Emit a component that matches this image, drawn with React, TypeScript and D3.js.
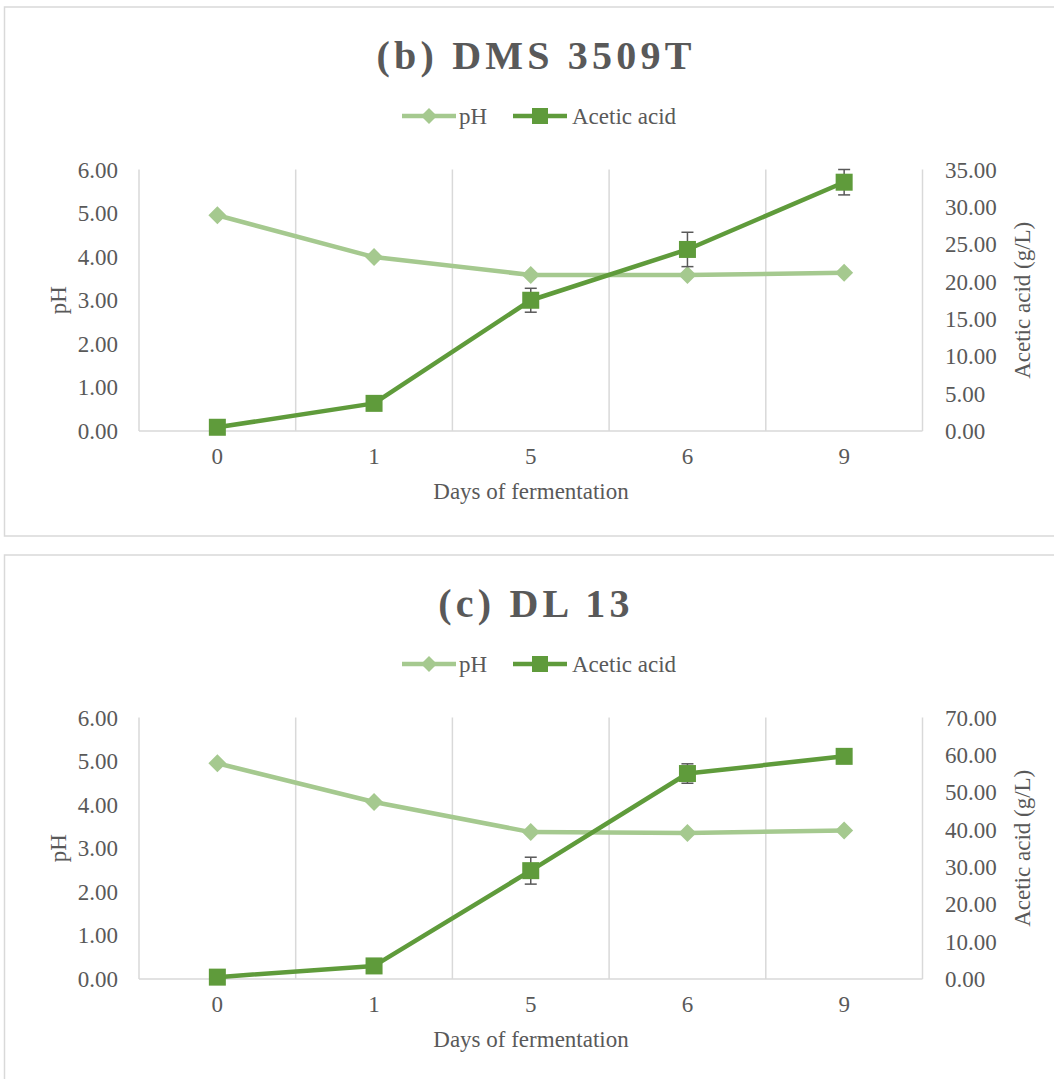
import React from 'react';
import * as d3 from 'd3';

// categories (days of fermentation)
const days = ['0', '1', '5', '6', '9'];

// (b) DMS 3509T
const phB = [4.95, 3.99, 3.58, 3.58, 3.63];
const acidB = [0.5, 3.7, 17.5, 24.3, 33.3];
const acidErrB = [0, 0, 1.6, 2.3, 1.7];

// (c) DL 13
const phC = [4.95, 4.06, 3.37, 3.35, 3.41];
const acidC = [0.5, 3.5, 29.0, 55.0, 59.6];
const acidErrC = [0, 0, 3.6, 2.6, 1.0];

const phTicks = [0, 1, 2, 3, 4, 5, 6];
const acidTicksB = [0, 5, 10, 15, 20, 25, 30, 35];
const acidTicksC = [0, 10, 20, 30, 40, 50, 60, 70];

const FONT = '"Liberation Serif", "Times New Roman", serif';
const TEXT = '#595959';
const GRID = '#d9d9d9';
const PH_COLOR = '#a5c98f';
const ACID_COLOR = '#5f9b3b';

type PanelProps = {
  top: number;
  title: string;
  ph: number[];
  acid: number[];
  acidErr: number[];
  acidTicks: number[];
};

function Panel({ top, title, ph, acid, acidErr, acidTicks }: PanelProps) {
  const left = 139;
  const right = 922.5;
  const plotTop = top + 162.5;
  const plotBottom = top + 424;

  const x = d3.scaleBand<string>().domain(days).range([left, right]);
  const yPh = d3.scaleLinear().domain([0, 6]).range([plotBottom, plotTop]);
  const yAcid = d3
    .scaleLinear()
    .domain([0, acidTicks[acidTicks.length - 1]])
    .range([plotBottom, plotTop]);

  const cx = (d: string) => (x(d) as number) + x.bandwidth() / 2;

  const phLine = d3
    .line<number>()
    .x((_, i) => cx(days[i]))
    .y((v) => yPh(v));
  const acidLine = d3
    .line<number>()
    .x((_, i) => cx(days[i]))
    .y((v) => yAcid(v));

  const bounds = days.map((d) => x(d) as number).concat([right]);
  const legendY = top + 109;

  return (
    <g>
      {/* panel frame */}
      <rect x={4.5} y={top} width={1070} height={top < 100 ? 529 : 600} fill="#fff" stroke={GRID} strokeWidth={1.5} />

      <text
        x={536}
        y={top + 62}
        textAnchor="middle"
        fontFamily={FONT}
        fontWeight="bold"
        fontSize={40}
        letterSpacing={4.2}
        fill={TEXT}
      >
        {title}
      </text>

      {/* legend */}
      <g>
        <line x1={402} x2={456} y1={legendY} y2={legendY} stroke={PH_COLOR} strokeWidth={4.5} />
        <path d={`M429,${legendY - 8}L437,${legendY}L429,${legendY + 8}L421,${legendY}Z`} fill={PH_COLOR} />
        <text x={459} y={legendY} dy="0.35em" fontFamily={FONT} fontSize={23} fill={TEXT}>
          pH
        </text>
        <line x1={513} x2={567} y1={legendY} y2={legendY} stroke={ACID_COLOR} strokeWidth={4.5} />
        <rect x={532} y={legendY - 8} width={16} height={16} fill={ACID_COLOR} />
        <text x={572} y={legendY} dy="0.35em" fontFamily={FONT} fontSize={23} fill={TEXT}>
          Acetic acid
        </text>
      </g>

      {/* gridlines */}
      {bounds.map((b, i) => (
        <line key={i} x1={b} x2={b} y1={plotTop} y2={plotBottom} stroke={GRID} strokeWidth={1.5} />
      ))}
      <line x1={left} x2={right} y1={plotBottom} y2={plotBottom} stroke={GRID} strokeWidth={1.5} />

      {/* left axis */}
      {phTicks.map((t) => (
        <text
          key={t}
          x={118}
          y={yPh(t)}
          dy="0.35em"
          textAnchor="end"
          fontFamily={FONT}
          fontSize={23}
          fill={TEXT}
        >
          {t.toFixed(2)}
        </text>
      ))}
      <text
        transform={`translate(58,${(plotTop + plotBottom) / 2}) rotate(-90)`}
        textAnchor="middle"
        dy="0.35em"
        fontFamily={FONT}
        fontSize={23}
        fill={TEXT}
      >
        pH
      </text>

      {/* right axis */}
      {acidTicks.map((t) => (
        <text key={t} x={945} y={yAcid(t)} dy="0.35em" fontFamily={FONT} fontSize={23} fill={TEXT}>
          {t.toFixed(2)}
        </text>
      ))}
      <text
        transform={`translate(1022,${(plotTop + plotBottom) / 2}) rotate(-90)`}
        textAnchor="middle"
        dy="0.35em"
        fontFamily={FONT}
        fontSize={23}
        fill={TEXT}
      >
        Acetic acid (g/L)
      </text>

      {/* category axis */}
      {days.map((d) => (
        <text
          key={d}
          x={cx(d)}
          y={top + 457}
          textAnchor="middle"
          fontFamily={FONT}
          fontSize={23}
          fill={TEXT}
        >
          {d}
        </text>
      ))}
      <text x={531} y={top + 492} textAnchor="middle" fontFamily={FONT} fontSize={23} fill={TEXT}>
        Days of fermentation
      </text>

      {/* pH series */}
      <path d={phLine(ph) || ''} fill="none" stroke={PH_COLOR} strokeWidth={4.5} strokeLinejoin="round" />
      {ph.map((v, i) => {
        const px = cx(days[i]);
        const py = yPh(v);
        return (
          <path
            key={i}
            d={`M${px},${py - 9}L${px + 9},${py}L${px},${py + 9}L${px - 9},${py}Z`}
            fill={PH_COLOR}
          />
        );
      })}

      {/* acetic acid series */}
      <path d={acidLine(acid) || ''} fill="none" stroke={ACID_COLOR} strokeWidth={4.5} strokeLinejoin="round" />
      {acid.map((v, i) => {
        const px = cx(days[i]);
        const e = acidErr[i];
        if (!e) return null;
        const y1 = yAcid(v + e);
        const y2 = yAcid(v - e);
        return (
          <g key={i} stroke="#595959" strokeWidth={1.5}>
            <line x1={px} x2={px} y1={y1} y2={y2} />
            <line x1={px - 6} x2={px + 6} y1={y1} y2={y1} />
            <line x1={px - 6} x2={px + 6} y1={y2} y2={y2} />
          </g>
        );
      })}
      {acid.map((v, i) => {
        const px = cx(days[i]);
        const py = yAcid(v);
        return <rect key={i} x={px - 8.5} y={py - 8.5} width={17} height={17} fill={ACID_COLOR} />;
      })}
    </g>
  );
}

export default function App() {
  return (
    <svg
      width={1054}
      height={1079}
      style={{ position: 'absolute', left: 0, top: 0, background: '#fff' }}
    >
      <rect width={1054} height={1079} fill="#fff" />
      <Panel top={7} title="(b) DMS 3509T" ph={phB} acid={acidB} acidErr={acidErrB} acidTicks={acidTicksB} />
      <Panel top={555} title="(c) DL 13" ph={phC} acid={acidC} acidErr={acidErrC} acidTicks={acidTicksC} />
    </svg>
  );
}
